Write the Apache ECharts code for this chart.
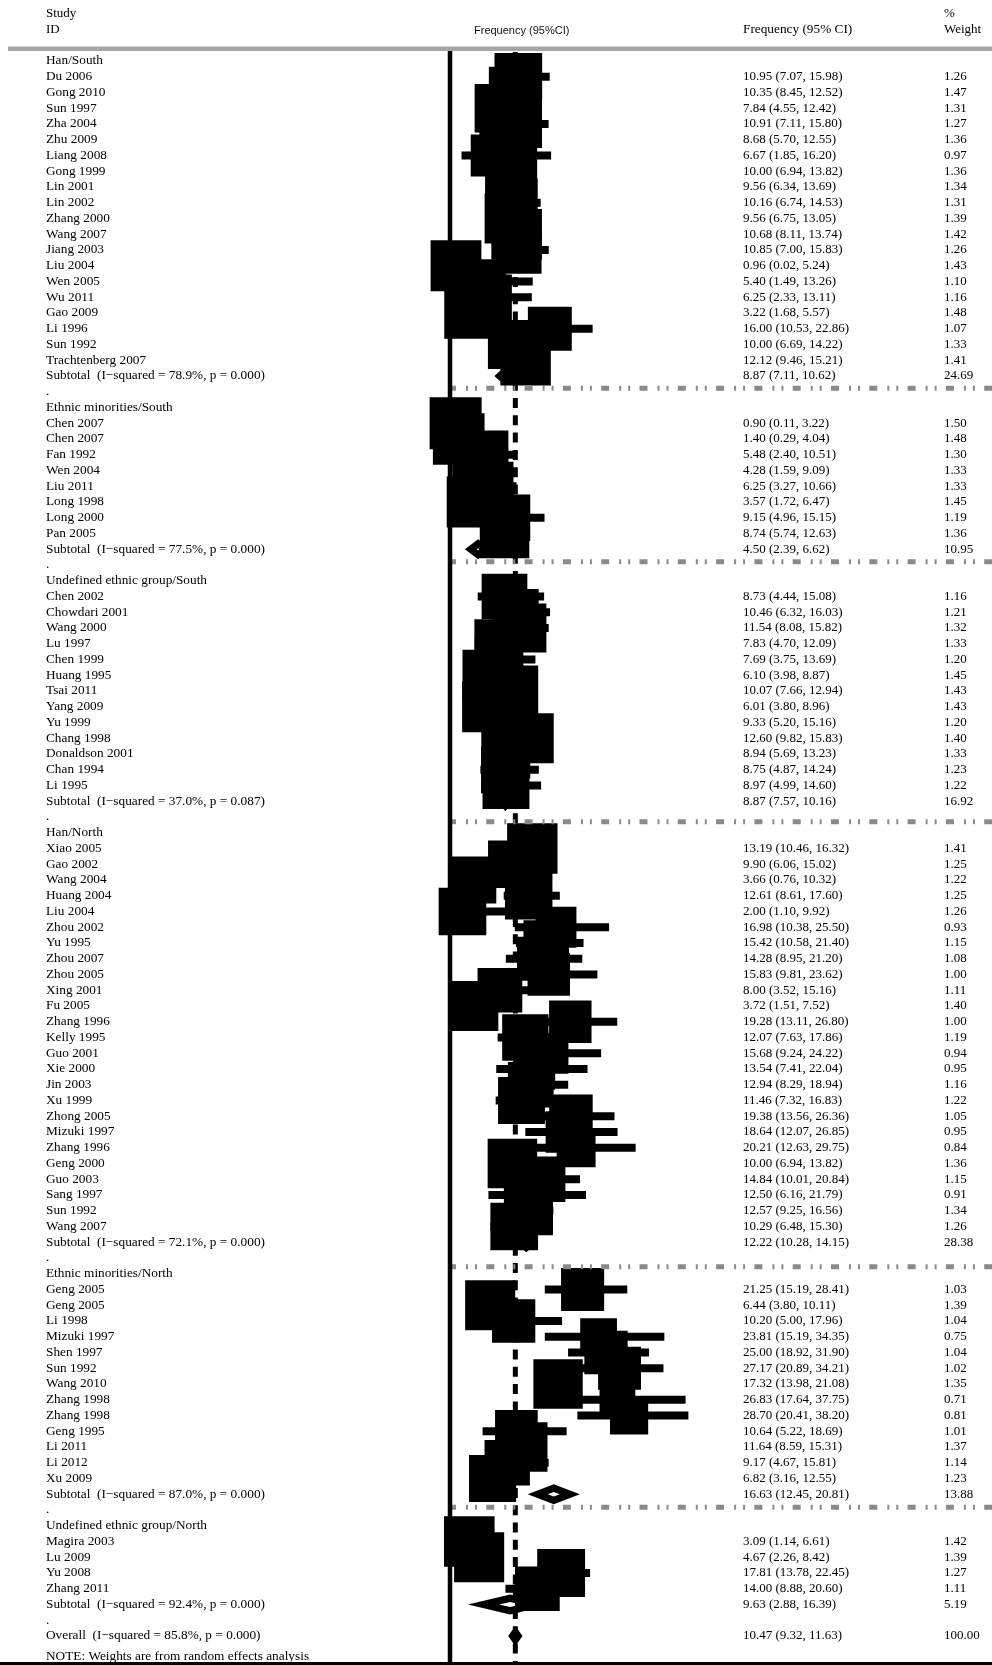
<!DOCTYPE html>
<html><head><meta charset="utf-8">
<script src="https://cdn.jsdelivr.net/npm/echarts@6/dist/echarts.min.js"></script>
<style>html,body{margin:0;padding:0;background:#fff}#c{width:992px;height:1665px}</style>
</head><body><div id="c"></div>
<script>
// ---------------- DATA ----------------
const groupNames = ['Han/South','Ethnic minorities/South','Undefined ethnic group/South','Han/North','Ethnic minorities/North','Undefined ethnic group/North'];
const groupSizes = [19, 8, 13, 25, 13, 4];
const studyNames = [
 'Du 2006','Gong 2010','Sun 1997','Zha 2004','Zhu 2009','Liang 2008','Gong 1999','Lin 2001','Lin 2002','Zhang 2000','Wang 2007','Jiang 2003','Liu 2004','Wen 2005','Wu 2011','Gao 2009','Li 1996','Sun 1992','Trachtenberg 2007',
 'Chen 2007','Chen 2007','Fan 1992','Wen 2004','Liu 2011','Long 1998','Long 2000','Pan 2005',
 'Chen 2002','Chowdari 2001','Wang 2000','Lu 1997','Chen 1999','Huang 1995','Tsai 2011','Yang 2009','Yu 1999','Chang 1998','Donaldson 2001','Chan 1994','Li 1995',
 'Xiao 2005','Gao 2002','Wang 2004','Huang 2004','Liu 2004','Zhou 2002','Yu 1995','Zhou 2007','Zhou 2005','Xing 2001','Fu 2005','Zhang 1996','Kelly 1995','Guo 2001','Xie 2000','Jin 2003','Xu 1999','Zhong 2005','Mizuki 1997','Zhang 1996','Geng 2000','Guo 2003','Sang 1997','Sun 1992','Wang 2007',
 'Geng 2005','Geng 2005','Li 1998','Mizuki 1997','Shen 1997','Sun 1992','Wang 2010','Zhang 1998','Zhang 1998','Geng 1995','Li 2011','Li 2012','Xu 2009',
 'Magira 2003','Lu 2009','Yu 2008','Zhang 2011'];
const studyEst = [10.95,10.35,7.84,10.91,8.68,6.67,10.00,9.56,10.16,9.56,10.68,10.85,0.96,5.40,6.25,3.22,16.00,10.00,12.12,
 0.90,1.40,5.48,4.28,6.25,3.57,9.15,8.74,
 8.73,10.46,11.54,7.83,7.69,6.10,10.07,6.01,9.33,12.60,8.94,8.75,8.97,
 13.19,9.90,3.66,12.61,2.00,16.98,15.42,14.28,15.83,8.00,3.72,19.28,12.07,15.68,13.54,12.94,11.46,19.38,18.64,20.21,10.00,14.84,12.50,12.57,10.29,
 21.25,6.44,10.20,23.81,25.00,27.17,17.32,26.83,28.70,10.64,11.64,9.17,6.82,
 3.09,4.67,17.81,14.00];
const studyLo = [7.07,8.45,4.55,7.11,5.70,1.85,6.94,6.34,6.74,6.75,8.11,7.00,0.02,1.49,2.33,1.68,10.53,6.69,9.46,
 0.11,0.29,2.40,1.59,3.27,1.72,4.96,5.74,
 4.44,6.32,8.08,4.70,3.75,3.98,7.66,3.80,5.20,9.82,5.69,4.87,4.99,
 10.46,6.06,0.76,8.61,1.10,10.38,10.58,8.95,9.81,3.52,1.51,13.11,7.63,9.24,7.41,8.29,7.32,13.56,12.07,12.63,6.94,10.01,6.16,9.25,6.48,
 15.19,3.80,5.00,15.19,18.92,20.89,13.98,17.64,20.41,5.22,8.59,4.67,3.16,
 1.14,2.26,13.78,8.88];
const studyHi = [15.98,12.52,12.42,15.80,12.55,16.20,13.82,13.69,14.53,13.05,13.74,15.83,5.24,13.26,13.11,5.57,22.86,14.22,15.21,
 3.22,4.04,10.51,9.09,10.66,6.47,15.15,12.63,
 15.08,16.03,15.82,12.09,13.69,8.87,12.94,8.96,15.16,15.83,13.23,14.24,14.60,
 16.32,15.02,10.32,17.60,9.92,25.50,21.40,21.20,23.62,15.16,7.52,26.80,17.86,24.22,22.04,18.94,16.83,26.36,26.85,29.75,13.82,20.84,21.79,16.56,15.30,
 28.41,10.11,17.96,34.35,31.90,34.21,21.08,37.75,38.20,18.69,15.31,15.81,12.55,
 6.61,8.42,22.45,20.60];
const studyWeight = [1.26,1.47,1.31,1.27,1.36,0.97,1.36,1.34,1.31,1.39,1.42,1.26,1.43,1.10,1.16,1.48,1.07,1.33,1.41,
 1.50,1.48,1.30,1.33,1.33,1.45,1.19,1.36,
 1.16,1.21,1.32,1.33,1.20,1.45,1.43,1.43,1.20,1.40,1.33,1.23,1.22,
 1.41,1.25,1.22,1.25,1.26,0.93,1.15,1.08,1.00,1.11,1.40,1.00,1.19,0.94,0.95,1.16,1.22,1.05,0.95,0.84,1.36,1.15,0.91,1.34,1.26,
 1.03,1.39,1.04,0.75,1.04,1.02,1.35,0.71,0.81,1.01,1.37,1.14,1.23,
 1.42,1.39,1.27,1.11];
const subI2 = ['78.9%','77.5%','37.0%','72.1%','87.0%','92.4%'];
const subP = ['0.000','0.000','0.087','0.000','0.000','0.000'];
const subEst = [8.87,4.50,8.87,12.22,16.63,9.63];
const subLo = [7.11,2.39,7.57,10.28,12.45,2.88];
const subHi = [10.62,6.62,10.16,14.15,20.81,16.39];
const subWeight = [24.69,10.95,16.92,28.38,13.88,5.19];
const overallStats = [10.47, 9.32, 11.63, 100.00];
const overallHet = ['85.8%', '0.000'];
const headerLabels = ['Study', 'ID', 'Frequency (95%CI)', 'Frequency (95% CI)', '%', 'Weight'];
const noteText = 'NOTE: Weights are from random effects analysis';

// ---------------- LAYOUT ----------------
const W = 992, H = 1665;
const X0 = 450, XS = 6.24;          // pixel of value 0, px per unit
const ROW0 = 61, ROWH = 15.75;      // pixel of first row, row height
const BOX_K = 42.46;                // box side = K*sqrt(weight)
const CI_W = 8;
const DIA_H = 10, DIA_T = 7.2;
const SEP_OFFSETS = [0.78, 0.79, 1.3, 1.55, 0.83];
const NOTE_ROW = 101.33;
const SERIF = '"Liberation Serif","Times New Roman",serif';
const TXT = '#000';
const xMin = -X0 / XS, xMax = (W - X0) / XS;
const yMin = -ROW0 / ROWH, yMax = (H - ROW0) / ROWH;

// ---------------- BUILD ROWS ----------------
const rows = [];
const studyData = [];
const diaData = [];
const subRows = [];
let r = 0, s = 0;
groupNames.forEach((g, gi) => {
  rows.push({label: g, row: r++});
  for (let k = 0; k < groupSizes[gi]; k++, s++) {
    rows.push({label: studyNames[s], row: r,
      ci: studyEst[s].toFixed(2) + ' (' + studyLo[s].toFixed(2) + ', ' + studyHi[s].toFixed(2) + ')',
      wt: studyWeight[s].toFixed(2)});
    studyData.push([studyEst[s], studyLo[s], studyHi[s], r, studyWeight[s]]);
    r++;
  }
  rows.push({label: 'Subtotal  (I\u2212squared = ' + subI2[gi] + ', p = ' + subP[gi] + ')', row: r,
    ci: subEst[gi].toFixed(2) + ' (' + subLo[gi].toFixed(2) + ', ' + subHi[gi].toFixed(2) + ')',
    wt: subWeight[gi].toFixed(2)});
  diaData.push([subEst[gi], subLo[gi], subHi[gi], r]);
  subRows.push(r);
  r++;
  rows.push({label: '.', row: r++});
});
rows.push({label: 'Overall  (I\u2212squared = ' + overallHet[0] + ', p = ' + overallHet[1] + ')', row: r,
  ci: overallStats[0].toFixed(2) + ' (' + overallStats[1].toFixed(2) + ', ' + overallStats[2].toFixed(2) + ')',
  wt: overallStats[3].toFixed(2)});
diaData.push([overallStats[0], overallStats[1], overallStats[2], r]);
rows.push({label: noteText, row: NOTE_ROW});
const sepData = SEP_OFFSETS.map((o, i) => [0, subRows[i] + o]);

const chart = echarts.init(document.getElementById('c'), null, {renderer: 'canvas'});
const option = {
  animation: false,
  backgroundColor: '#fff',
  grid: {left: 0, right: 0, top: 0, bottom: 0},
  xAxis: {type: 'value', min: xMin, max: xMax, show: false},
  yAxis: {type: 'value', min: yMin, max: yMax, inverse: true, show: false},
  graphic: [
    {type: 'text', left: 46, top: 7, style: {text: headerLabels[0], font: '13px ' + SERIF, fill: TXT}},
    {type: 'text', left: 46, top: 23, style: {text: headerLabels[1], font: '13px ' + SERIF, fill: TXT}},
    {type: 'text', left: 474, top: 25, style: {text: headerLabels[2], font: '11px "Liberation Sans",Arial,sans-serif', fill: '#111'}},
    {type: 'text', left: 743, top: 23, style: {text: headerLabels[3], font: '13.3px ' + SERIF, fill: TXT}},
    {type: 'text', left: 944, top: 7, style: {text: headerLabels[4], font: '13px ' + SERIF, fill: TXT}},
    {type: 'text', left: 944, top: 23, style: {text: headerLabels[5], font: '13px ' + SERIF, fill: TXT}},
    {type: 'rect', shape: {x: 8, y: 46.5, width: W - 8, height: 4.5}, style: {fill: '#a6a6a6'}, z: 10},
    {type: 'rect', shape: {x: 0, y: 1662, width: W, height: 3}, style: {fill: '#000'}, z: 100}
  ],
  series: [
    { // overall dashed vertical line
      type: 'custom', data: [[overallStats[0], 0]], z: 2,
      renderItem: (p, api) => {
        const x = api.coord([api.value(0), 0])[0];
        return {type: 'line', shape: {x1: x, y1: 52, x2: x, y2: H},
          style: {stroke: '#000', lineWidth: 5, lineDash: [10, 7.3]}};
      }
    },
    { // diamonds
      type: 'custom', data: diaData, z: 3,
      renderItem: (p, api) => {
        const c = api.coord([api.value(0), api.value(3)]);
        const l = api.coord([api.value(1), api.value(3)]);
        const h = api.coord([api.value(2), api.value(3)]);
        const children = [{type: 'polygon', shape: {points: [[l[0], c[1]], [c[0], c[1] - DIA_H], [h[0], c[1]], [c[0], c[1] + DIA_H]]},
          style: {fill: '#000'}}];
        const hw = (h[0] - l[0]) / 2;
        const sl = DIA_H / hw;
        const ih = DIA_H - DIA_T * Math.sqrt(1 + sl * sl);
        if (ih > 0.3) {
          const f = ih / DIA_H;
          children.push({type: 'polygon', shape: {points: [[c[0] - (c[0] - l[0]) * f, c[1]], [c[0], c[1] - ih], [c[0] + (h[0] - c[0]) * f, c[1]], [c[0], c[1] + ih]]},
            style: {fill: '#fff'}});
        }
        return {type: 'group', children};
      }
    },
    { // study boxes and CI lines
      type: 'custom', data: studyData, z: 4,
      renderItem: (p, api) => {
        const row = api.value(3);
        const c = api.coord([api.value(0), row]);
        const l = api.coord([api.value(1), row]);
        const h = api.coord([api.value(2), row]);
        const side = BOX_K * Math.sqrt(api.value(4));
        return {type: 'group', children: [
          {type: 'rect', shape: {x: l[0], y: c[1] - CI_W / 2, width: h[0] - l[0], height: CI_W}, style: {fill: '#000'}},
          {type: 'rect', shape: {x: c[0] - side / 2, y: c[1] - side / 2, width: side, height: side}, style: {fill: '#000'}}
        ]};
      }
    },
    { // group separators
      type: 'custom', data: sepData, z: 5,
      renderItem: (p, api) => {
        const pt = api.coord([api.value(0), api.value(1)]);
        return {type: 'line', shape: {x1: pt[0] - 2, y1: pt[1], x2: api.getWidth(), y2: pt[1]},
          style: {stroke: '#8a8a8a', lineWidth: 5, lineDash: [8, 10, 2, 7, 2, 9.3]}};
      }
    },
    { // null line
      type: 'custom', data: [[0, 0]], z: 6,
      renderItem: (p, api) => {
        const x = api.coord([api.value(0), 0])[0];
        return {type: 'line', shape: {x1: x, y1: 48, x2: x, y2: H}, style: {stroke: '#000', lineWidth: 4.5}};
      }
    },
    { // texts
      type: 'custom', data: rows.map(o => [0, o.row]), z: 7,
      renderItem: (p, api) => {
        const o = rows[p.dataIndex];
        const y = api.coord([0, api.value(1)])[1];
        const ch = [{type: 'text', style: {text: o.label, x: 46, y: y, font: '13.3px ' + SERIF, fill: TXT, align: 'left', verticalAlign: 'middle'}}];
        if (o.ci) ch.push({type: 'text', style: {text: o.ci, x: 743, y: y, font: '13px ' + SERIF, fill: TXT, align: 'left', verticalAlign: 'middle'}});
        if (o.wt) ch.push({type: 'text', style: {text: o.wt, x: 944, y: y, font: '13px ' + SERIF, fill: TXT, align: 'left', verticalAlign: 'middle'}});
        return {type: 'group', children: ch};
      }
    }
  ]
};
chart.setOption(option);
</script>
</body></html>
